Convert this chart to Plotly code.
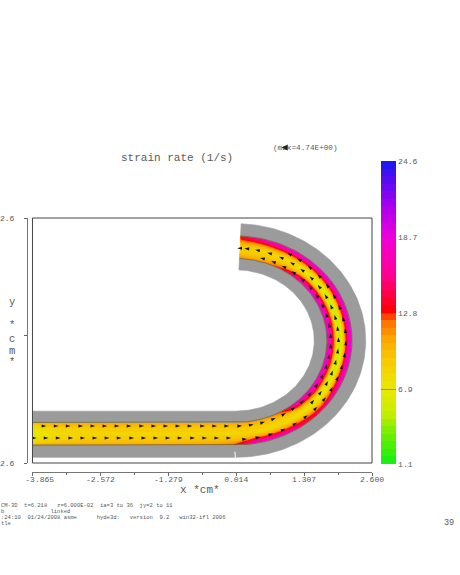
import numpy as np
import plotly.graph_objects as go

# --- data ---
x_ticks = [-3.865, -2.572, -1.279, 0.014, 1.307, 2.600]
x_tick_labels = ["\u00a0\u00a0\u00a0-3.865", "-2.572", "-1.279", "0.014", "1.307", "2.600"]
x_minor = [-3.2185, -1.9255, -0.6325, 0.6605, 1.9535]
cbar_ticks = [1.1, 6.9, 12.8, 18.7, 24.6]

wall_radii = [1.50, 1.74, 2.22, 2.48]
pipe_left = -3.90
arc_end_deg = 87.5

cross_fraction = [0, 0.13, 0.3, 0.5, 0.7, 0.87, 1]
straight_stations = [-3.90, -3.4, -2.5, -1.3, -0.4, 0.0]
arc_stations = [-80, -70, -60, -50, -40, -30, -15, 0, 15, 30, 45, 60, 75, 87.5]
strain_straight = [
    [10.0, 8.5, 7.2, 6.5, 7.2, 8.5, 10.0],
    [10.5, 9.6, 8.5, 8.0, 8.5, 9.6, 10.5],
    [10.8, 9.8, 9.0, 8.5, 9.0, 9.8, 10.8],
    [10.8, 9.8, 9.0, 8.5, 9.0, 9.8, 10.8],
    [10.8, 9.8, 9.0, 8.5, 9.2, 10.2, 11.5],
    [11.0, 10.0, 9.0, 8.5, 9.4, 11.0, 13.0],
]
strain_arc = [
    [11.0, 10.0, 9.0, 8.5, 10.5, 16.0, 17.5],
    [11.5, 10.0, 9.0, 8.2, 10.5, 16.0, 18.0],
    [13.0, 11.0, 9.0, 8.0, 10.5, 15.0, 17.5],
    [17.5, 15.5, 10.0, 7.5, 10.0, 13.5, 14.5],
    [18.0, 17.0, 11.0, 6.5, 9.5, 13.0, 16.5],
    [18.0, 17.5, 11.5, 5.5, 10.0, 15.0, 18.0],
    [18.0, 18.0, 11.5, 4.5, 10.5, 17.5, 18.5],
    [18.0, 18.0, 11.5, 4.5, 10.5, 17.5, 18.5],
    [18.0, 18.0, 11.5, 4.5, 10.5, 17.5, 18.5],
    [18.0, 17.5, 11.0, 5.0, 10.5, 17.0, 18.5],
    [17.5, 16.0, 10.0, 6.5, 10.5, 17.0, 18.5],
    [14.0, 11.5, 9.0, 8.0, 11.0, 17.0, 18.0],
    [11.5, 10.0, 9.0, 8.5, 11.0, 15.5, 17.0],
    [12.0, 10.5, 9.0, 9.0, 10.5, 13.0, 14.0],
]

arrow_x_upper = [-3.60, -3.37, -3.14, -2.90, -2.67, -2.44, -2.21, -1.98, -1.74, -1.51, -1.28, -1.05, -0.82, -0.58, -0.35, -0.12]
arrow_x_lower = [-3.79, -3.56, -3.33, -3.09, -2.86, -2.63, -2.40, -2.17, -1.93, -1.70, -1.47, -1.24, -1.01, -0.77, -0.54, -0.31, -0.08]
arrow_y_upper = -1.815
arrow_y_lower = -2.07
arrow_radii = [1.815, 1.96, 2.10]
arrow_deg_inner = [-86, -79, -72, -65, -58, -51, -44, -37, -30, -23, -16, -9, -2, 5, 12, 19, 26, 33, 40, 47, 54, 61, 68, 75]
arrow_deg_mid = [-40, -33, -26, -19, -12, -5, 2, 9, 16, 23, 30, 37, 44, 51, 58, 65, 72, 79, 85, 89]
arrow_deg_outer = [-84, -77, -70, -63, -56, -49, -42, -35, -28, -21, -14, -7, 0, 7, 14, 21, 28, 35, 42, 49, 56, 62]

color_stops = [
    [0.0, "#10f010"], [0.10, "#70ee00"], [0.17, "#c8ee00"], [0.245, "#e8e800"],
    [0.33, "#f5d000"], [0.41, "#fca800"], [0.47, "#ff7000"], [0.495, "#ff3000"],
    [0.505, "#ff0000"], [0.62, "#ff0090"], [0.745, "#f000d8"], [0.86, "#a000f0"],
    [1.0, "#1818f0"],
]

footer_lines = [
    "CM-3D  t=6.218   z=6.000E-02  ia=3 to 36  jy=2 to 11",
    "b              linked",
    ":24:10  01/24/2008 asme      hyde3d:   version  9.2   win32-ifl 2006",
    "tle",
]

# --- page geometry ---
W, H = 460, 575
L, R, T, B = 26.5, 372.5, 218.0, 472.0
frame_left, frame_bottom = 32.0, 463.0
x_domain = [(frame_left - L) / (R - L), 1]
y_domain = [(B - frame_bottom) / (B - T), 1]

FONT = "Liberation Mono"
TXT = "#5a5a5a"


def polar(r, deg):
    t = np.radians(deg)
    return r * np.cos(t), r * np.sin(t)


def page_x(px):
    return (px - L) / (R - L)


def page_y(py):
    return (B - py) / (B - T)


fig = go.Figure()

# grey walls (straight + arc pieces)
wx, wy = [], []
for r0, r1 in [(wall_radii[0], wall_radii[1]), (wall_radii[2], wall_radii[3])]:
    wx += [pipe_left, 0.0, 0.0, pipe_left, pipe_left, None]
    wy += [-r0, -r0, -r1, -r1, -r0, None]
    th = np.linspace(-90, arc_end_deg, 120)
    ax0, ay0 = polar(r0, th)
    ax1, ay1 = polar(r1, th[::-1])
    wx += list(ax0) + list(ax1) + [ax0[0], None]
    wy += list(ay0) + list(ay1) + [ay0[0], None]
fig.add_trace(go.Scatter(x=wx, y=wy, mode="lines", fill="toself", fillcolor="#9b9b9b",
                         line=dict(color="#9b9b9b", width=0.6), hoverinfo="skip", showlegend=False))

# flow channel on a curvilinear carpet
radii_across = [wall_radii[1] + f * (wall_radii[2] - wall_radii[1]) for f in cross_fraction]
gx, gy = [], []
for s in straight_stations:
    gx.append([s] * len(radii_across))
    gy.append([-r for r in radii_across])
for d in arc_stations:
    px, py = polar(np.array(radii_across), d)
    gx.append(list(map(float, px)))
    gy.append(list(map(float, py)))
a_index = list(range(len(gx)))
strain = strain_straight + strain_arc

fig.add_trace(go.Carpet(
    a=cross_fraction, b=a_index, x=gx, y=gy, carpet="pipe",
    aaxis=dict(showticklabels="none", showgrid=False, showline=False, tickmode="array", tickvals=[], smoothing=0,
               startline=False, endline=False, minorgridcount=0),
    baxis=dict(showticklabels="none", showgrid=False, showline=False, tickmode="array", tickvals=[], smoothing=1,
               startline=False, endline=False, minorgridcount=0),
))
fig.add_trace(go.Contourcarpet(
    a=cross_fraction, b=a_index, z=strain, carpet="pipe",
    colorscale=color_stops, zmin=1.1, zmax=24.6, autocontour=False,
    contours=dict(start=1.1, end=24.6, size=0.5875, coloring="fill", showlines=False),
    line=dict(width=0),
    colorbar=dict(
        x=page_x(382), xanchor="left", xpad=0,
        y=page_y(464), yanchor="bottom", ypad=0,
        thickness=15, thicknessmode="pixels", len=303, lenmode="pixels",
        tickmode="array", tickvals=cbar_ticks, ticktext=["1.1", "6.9", "12.8", "18.7", "24.6"],
        ticks="inside", ticklen=15, tickcolor="rgba(90,90,60,0.55)", tickwidth=1,
        tickfont=dict(family=FONT, size=8, color=TXT),
        outlinewidth=0, borderwidth=0, ticklabelposition="outside",
    ),
    showlegend=False,
))

# dark channel edges
ex, ey = [], []
for r in (wall_radii[1], wall_radii[2]):
    th = np.linspace(-90, arc_end_deg, 120)
    ax0, ay0 = polar(r, th)
    ex += [pipe_left, 0.0] + list(ax0) + [None]
    ey += [-r, -r] + list(ay0) + [None]
fig.add_trace(go.Scatter(x=ex, y=ey, mode="lines", line=dict(color="#6b5f3a", width=0.7),
                         hoverinfo="skip", showlegend=False))

# small break in the lower wall
fig.add_trace(go.Scatter(x=[-0.01, 0.0], y=[-2.36, -2.52], mode="lines",
                         line=dict(color="white", width=1), hoverinfo="skip", showlegend=False))

# velocity arrows
scale_x = (R - frame_left) / (x_ticks[-1] - x_ticks[0])
scale_y = (frame_bottom - T) / 5.2
ar_x = list(arrow_x_upper) + list(arrow_x_lower)
ar_y = [arrow_y_upper] * len(arrow_x_upper) + [arrow_y_lower] * len(arrow_x_lower)
ar_ang = [90.0] * (len(arrow_x_upper) + len(arrow_x_lower))
for r, degs in zip(arrow_radii, [arrow_deg_inner, arrow_deg_mid, arrow_deg_outer]):
    for d in degs:
        px, py = polar(r, d)
        t = np.radians(d)
        ar_x.append(float(px))
        ar_y.append(float(py))
        ar_ang.append(float(np.degrees(np.arctan2(-np.sin(t) * scale_x, np.cos(t) * scale_y))))
fig.add_trace(go.Scatter(x=ar_x, y=ar_y, mode="markers",
                         marker=dict(symbol="arrow", size=5, color="#111111", angle=ar_ang, line=dict(width=0)),
                         hoverinfo="skip", showlegend=False))

# invisible trace that carries the outer y axis
fig.add_trace(go.Scatter(x=[0], y=[0], xaxis="x", yaxis="y2", mode="markers",
                         marker=dict(opacity=0), hoverinfo="skip", showlegend=False))


def note(text, px, py, size, anchor="center"):
    return dict(text=text, xref="paper", yref="paper", x=page_x(px), y=page_y(py), showarrow=False,
                xanchor=anchor, yanchor="middle", borderpad=0, font=dict(family=FONT, size=size, color=TXT))


annotations = [
    note("strain rate (1/s)", 176.5, 158, 11),
    note("(max=4.74E+00)", 305.5, 147.5, 7.7),
    note("x *cm*", 200, 489.5, 11),
    note("39", 449.5, 523, 8.5),
    dict(x=page_x(282), y=page_y(147.5), ax=6, ay=0, xref="paper", yref="paper",
         text="", showarrow=True, arrowhead=2, arrowsize=1, arrowwidth=1.2, arrowcolor="#222222"),
]
for ch, py in zip(["y", "*", "c", "m", "*"], [302, 325, 339, 351, 362]):
    annotations.append(note(ch, 11, py, 10.5))
for line, py in zip(footer_lines, [505.5, 511.5, 517.5, 523.5]):
    annotations.append(note(line.replace(" ", "\u00a0"), -1, py, 5.5, anchor="left"))

fig.update_layout(
    width=W, height=H, paper_bgcolor="white", plot_bgcolor="white",
    margin=dict(l=L, r=W - R, t=T, b=H - B, pad=0, autoexpand=False),
    showlegend=False, annotations=annotations,
    xaxis=dict(domain=x_domain, range=[x_ticks[0], x_ticks[-1]], anchor="free", position=0,
               tickmode="array", tickvals=x_ticks, ticktext=x_tick_labels, ticks="outside", ticklen=3,
               ticklabelstandoff=-4,
               tickcolor="#666666", showline=True, linecolor="#777777", linewidth=1, showgrid=False, zeroline=False,
               tickangle=0, tickfont=dict(family=FONT, size=8, color=TXT),
               minor=dict(tickmode="array", tickvals=x_minor, ticks="outside", ticklen=2, tickcolor="#666666", showgrid=False)),
    yaxis=dict(domain=y_domain, range=[-2.6, 2.6], anchor="x", showline=False, showgrid=False, zeroline=False,
               showticklabels=False, ticks=""),
    yaxis2=dict(domain=[0, 1], range=[-2.8, 2.6], anchor="free", position=0, overlaying="y", side="left",
                tickmode="array", tickvals=[2.6, 0, -2.8], ticktext=["2.6", "", "2.6"], ticks="outside", ticklen=3,
                ticklabelstandoff=8, tickcolor="#666666", showline=True, linecolor="#777777", linewidth=1,
                showgrid=False, zeroline=False, tickfont=dict(family=FONT, size=8, color=TXT)),
    shapes=[dict(type="rect", xref="x domain", yref="y domain", x0=0, x1=1, y0=0, y1=1,
                 line=dict(color="#444444", width=1), layer="above")],
)

fig.write_html("out.html", config={"displayModeBar": False},
               post_script="document.body.style.margin='0';document.documentElement.style.overflow='hidden';")
